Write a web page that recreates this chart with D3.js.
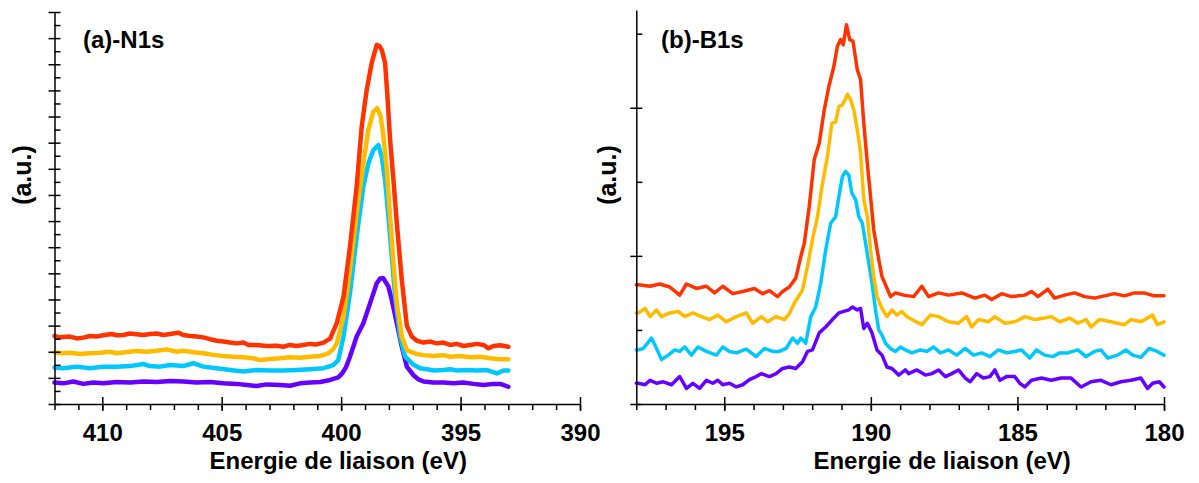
<!DOCTYPE html>
<html>
<head>
<meta charset="utf-8">
<script src="https://cdn.jsdelivr.net/npm/d3@7"></script>
<style>
  html, body { margin: 0; padding: 0; background: #fff; }
  svg { display: block; }
  text { font-family: "Liberation Sans", Arial, sans-serif; font-weight: bold; fill: #000; }
</style>
</head>
<body>
<svg id="chart" width="1199" height="483"></svg>
<script>
// ---------- DATA ----------
const seriesColors = ["#FF3300", "#FFBB00", "#00C8FF", "#6600FF"];

// Panel (a) N1s : [binding energy (eV), intensity (a.u.)]
const n1sRed = [[412.0,2.60],[411.77,2.55],[411.35,2.58],[411.07,2.51],[410.79,2.54],[410.52,2.60],[410.24,2.58],[409.96,2.63],[409.61,2.68],[409.40,2.63],[409.12,2.64],[408.84,2.70],[408.56,2.67],[408.28,2.64],[408.00,2.68],[407.72,2.70],[407.44,2.64],[407.16,2.68],[406.82,2.73],[406.61,2.64],[406.33,2.60],[406.05,2.58],[405.77,2.55],[405.49,2.48],[405.21,2.42],[404.93,2.39],[404.65,2.35],[404.37,2.32],[404.09,2.35],[403.88,2.26],[403.54,2.26],[403.12,2.22],[402.70,2.23],[402.42,2.19],[402.14,2.26],[401.86,2.22],[401.58,2.26],[401.30,2.30],[401.02,2.28],[400.74,2.35],[400.46,2.50],[400.18,3.10],[399.90,4.11],[399.63,6.02],[399.35,8.32],[399.14,10.61],[398.93,12.02],[398.72,13.05],[398.51,13.74],[398.40,13.70],[398.30,13.55],[398.16,13.05],[398.06,11.76],[397.95,10.10],[397.81,8.57],[397.67,6.93],[397.46,4.74],[397.25,3.00],[397.04,2.58],[396.83,2.42],[396.55,2.35],[396.27,2.39],[396.00,2.32],[395.72,2.35],[395.44,2.26],[395.16,2.30],[394.88,2.22],[394.60,2.26],[394.32,2.30],[394.04,2.26],[393.83,2.13],[393.62,2.22],[393.34,2.25],[393.0,2.19]];
const n1sYellow = [[412.0,1.98],[411.77,1.94],[411.35,1.96],[410.93,1.91],[410.52,1.94],[410.10,1.96],[409.68,2.00],[409.40,1.94],[408.98,1.99],[408.56,2.03],[408.14,2.00],[407.72,2.04],[407.30,2.09],[406.89,2.00],[406.61,2.04],[406.19,1.98],[405.77,1.94],[405.35,1.88],[404.93,1.84],[404.51,1.81],[404.09,1.79],[403.67,1.75],[403.40,1.68],[402.98,1.72],[402.56,1.75],[402.14,1.79],[401.72,1.77],[401.30,1.81],[400.88,1.84],[400.53,1.94],[400.33,2.10],[400.18,2.32],[399.90,3.34],[399.63,5.13],[399.35,7.30],[399.07,9.21],[398.86,10.49],[398.65,11.19],[398.49,11.32],[398.34,11.00],[398.23,10.23],[398.09,8.96],[397.95,7.17],[397.81,5.38],[397.67,3.85],[397.46,2.58],[397.25,2.07],[397.11,2.00],[396.83,1.91],[396.55,1.87],[396.13,1.84],[395.72,1.87],[395.44,1.81],[395.02,1.84],[394.60,1.79],[394.18,1.81],[393.76,1.75],[393.34,1.71],[393.0,1.71]];
const n1sCyan = [[412.0,1.40],[411.63,1.37],[411.07,1.43],[410.52,1.37],[409.96,1.43],[409.40,1.43],[408.84,1.45],[408.28,1.53],[408.00,1.45],[407.58,1.43],[407.16,1.49],[406.61,1.45],[406.19,1.56],[405.77,1.43],[405.21,1.37],[404.65,1.30],[404.09,1.24],[403.54,1.30],[402.98,1.28],[402.42,1.28],[401.86,1.30],[401.30,1.33],[400.74,1.37],[400.33,1.49],[400.12,1.68],[399.90,2.58],[399.63,4.24],[399.35,6.40],[399.07,8.32],[398.86,9.21],[398.65,9.72],[398.44,9.91],[398.30,9.46],[398.16,8.57],[398.02,7.17],[397.88,5.64],[397.74,4.11],[397.53,2.58],[397.32,1.81],[396.97,1.50],[396.69,1.37],[396.41,1.33],[396.13,1.28],[395.72,1.30],[395.44,1.33],[395.16,1.28],[394.74,1.30],[394.32,1.28],[393.90,1.30],[393.48,1.17],[393.20,1.28],[393.0,1.28]];
const n1sPurple = [[412.0,0.82],[411.63,0.79],[411.21,0.86],[410.79,0.77],[410.38,0.82],[409.96,0.79],[409.40,0.84],[408.84,0.82],[408.28,0.86],[407.72,0.84],[407.16,0.88],[406.61,0.86],[406.05,0.82],[405.49,0.84],[404.93,0.79],[404.37,0.77],[403.95,0.73],[403.54,0.69],[403.12,0.75],[402.56,0.73],[402.14,0.70],[401.72,0.79],[401.30,0.82],[400.88,0.84],[400.46,0.92],[400.12,1.02],[399.96,1.17],[399.80,1.40],[399.63,1.81],[399.35,2.58],[399.07,3.09],[398.79,3.85],[398.51,4.62],[398.37,4.80],[398.23,4.81],[398.02,4.49],[397.88,3.98],[397.67,3.09],[397.46,2.19],[397.25,1.43],[396.97,1.10],[396.76,0.94],[396.55,0.86],[396.13,0.82],[395.72,0.82],[395.30,0.79],[394.88,0.82],[394.46,0.77],[394.04,0.73],[393.62,0.77],[393.34,0.77],[393.0,0.66]];

// Panel (b) B1s : [binding energy (eV), intensity (a.u.)]
const b1sRed = [[198.0,1.61],[197.93,1.61],[197.53,1.59],[197.2,1.62],[196.86,1.58],[196.52,1.47],[196.29,1.62],[195.95,1.56],[195.61,1.59],[195.33,1.50],[195.05,1.59],[194.71,1.49],[194.37,1.52],[193.97,1.56],[193.69,1.49],[193.46,1.53],[193.18,1.45],[193.01,1.52],[192.78,1.58],[192.56,1.70],[192.39,1.99],[192.27,2.17],[192.10,2.67],[191.93,3.30],[191.76,3.52],[191.59,3.97],[191.43,4.29],[191.26,4.56],[191.14,4.83],[191.03,4.92],[190.94,4.85],[190.83,5.12],[190.72,4.92],[190.61,4.90],[190.46,4.51],[190.35,4.38],[190.24,3.79],[190.12,3.25],[190.01,2.80],[189.90,2.35],[189.73,1.95],[189.62,1.72],[189.50,1.61],[189.33,1.45],[189.16,1.50],[188.88,1.47],[188.54,1.45],[188.26,1.59],[188.03,1.45],[187.69,1.50],[187.35,1.47],[186.90,1.50],[186.45,1.43],[186.11,1.47],[185.88,1.41],[185.54,1.49],[185.20,1.45],[184.75,1.47],[184.52,1.52],[184.30,1.45],[183.96,1.55],[183.73,1.43],[183.39,1.47],[183.05,1.50],[182.71,1.45],[182.37,1.43],[182.03,1.46],[181.69,1.49],[181.35,1.46],[181.01,1.50],[180.68,1.50],[180.34,1.46],[180.0,1.46]];
const b1sYellow = [[198.0,1.23],[197.93,1.23],[197.70,1.29],[197.53,1.18],[197.31,1.27],[197.14,1.18],[196.86,1.23],[196.57,1.25],[196.35,1.18],[196.07,1.23],[195.78,1.18],[195.50,1.14],[195.22,1.20],[194.93,1.11],[194.59,1.18],[194.25,1.23],[194.03,1.09],[193.74,1.18],[193.52,1.11],[193.23,1.18],[192.95,1.14],[192.78,1.22],[192.61,1.36],[192.33,1.54],[192.16,1.86],[191.99,2.22],[191.82,2.53],[191.65,2.98],[191.48,3.34],[191.33,3.79],[191.20,3.81],[191.09,4.02],[190.97,4.04],[190.88,4.11],[190.80,4.18],[190.69,4.11],[190.58,3.97],[190.46,3.70],[190.35,3.39],[190.24,2.76],[190.12,2.53],[190.01,2.08],[189.90,1.72],[189.79,1.45],[189.62,1.29],[189.45,1.18],[189.28,1.27],[189.11,1.20],[188.94,1.25],[188.77,1.18],[188.60,1.14],[188.26,1.07],[187.97,1.20],[187.69,1.18],[187.35,1.11],[187.02,1.09],[186.73,1.18],[186.56,1.04],[186.33,1.14],[185.99,1.11],[185.77,1.18],[185.43,1.09],[185.09,1.11],[184.75,1.18],[184.41,1.14],[184.07,1.16],[183.85,1.18],[183.56,1.11],[183.22,1.16],[182.94,1.09],[182.66,1.14],[182.49,1.04],[182.20,1.14],[181.81,1.11],[181.35,1.07],[181.13,1.14],[180.79,1.11],[180.39,1.20],[180.23,1.07],[180.0,1.11]];
const b1sCyan = [[198.0,0.73],[197.93,0.73],[197.76,0.75],[197.48,0.89],[197.31,0.75],[197.14,0.60],[196.91,0.66],[196.69,0.73],[196.52,0.71],[196.35,0.77],[196.12,0.66],[195.90,0.77],[195.61,0.71],[195.27,0.66],[195.05,0.77],[194.82,0.71],[194.59,0.69],[194.25,0.74],[193.91,0.64],[193.63,0.75],[193.35,0.71],[193.12,0.71],[192.89,0.75],[192.67,0.89],[192.50,0.82],[192.39,0.89],[192.22,0.82],[192.05,1.18],[191.88,1.31],[191.71,1.63],[191.54,2.08],[191.37,2.44],[191.20,2.53],[191.09,2.80],[190.97,3.07],[190.86,3.14],[190.75,3.09],[190.65,2.85],[190.52,2.76],[190.41,2.53],[190.29,2.44],[190.18,2.17],[190.07,1.90],[189.96,1.63],[189.84,1.27],[189.73,1.00],[189.62,0.93],[189.50,0.82],[189.33,0.75],[189.16,0.71],[188.99,0.77],[188.82,0.73],[188.60,0.69],[188.31,0.73],[188.09,0.71],[187.86,0.77],[187.63,0.69],[187.35,0.73],[187.07,0.66],[186.78,0.75],[186.50,0.66],[186.22,0.69],[185.94,0.64],[185.65,0.73],[185.37,0.69],[185.09,0.71],[184.86,0.73],[184.58,0.62],[184.35,0.73],[184.07,0.66],[183.79,0.64],[183.56,0.69],[183.28,0.69],[182.94,0.73],[182.66,0.64],[182.37,0.71],[182.15,0.73],[181.92,0.62],[181.58,0.66],[181.30,0.73],[181.07,0.66],[180.79,0.63],[180.51,0.75],[180.23,0.71],[180.0,0.66]];
const b1sPurple = [[198.0,0.28],[197.93,0.28],[197.70,0.26],[197.53,0.32],[197.31,0.28],[197.08,0.30],[196.80,0.26],[196.52,0.37],[196.29,0.21],[196.07,0.28],[195.84,0.21],[195.61,0.32],[195.39,0.28],[195.22,0.32],[195.05,0.26],[194.82,0.28],[194.59,0.23],[194.37,0.26],[194.14,0.33],[193.91,0.37],[193.74,0.41],[193.46,0.37],[193.23,0.41],[193.01,0.48],[192.78,0.50],[192.56,0.48],[192.33,0.57],[192.16,0.71],[191.99,0.73],[191.76,0.96],[191.54,1.04],[191.31,1.14],[191.09,1.23],[190.92,1.25],[190.75,1.27],[190.63,1.31],[190.46,1.27],[190.35,1.29],[190.24,1.02],[190.12,1.09],[189.96,0.96],[189.79,0.73],[189.62,0.66],[189.45,0.50],[189.28,0.48],[189.05,0.39],[188.82,0.46],[188.71,0.41],[188.43,0.46],[188.14,0.39],[187.92,0.41],[187.69,0.46],[187.46,0.37],[187.24,0.41],[187.01,0.46],[186.78,0.35],[186.61,0.30],[186.39,0.41],[186.16,0.35],[185.94,0.37],[185.77,0.46],[185.60,0.32],[185.37,0.37],[185.09,0.37],[184.92,0.28],[184.75,0.23],[184.52,0.32],[184.18,0.35],[183.85,0.32],[183.51,0.35],[183.17,0.35],[182.83,0.23],[182.49,0.30],[182.15,0.32],[181.81,0.26],[181.47,0.30],[181.13,0.32],[180.79,0.35],[180.56,0.21],[180.39,0.28],[180.16,0.30],[180.0,0.23]];

// Axis ticks
const n1sXMajor = [410, 405, 400, 395, 390];
const n1sXMinor = d3.range(390, 413, 1);
const n1sYMajor = d3.range(0, 16, 1);
const n1sYMinor = d3.range(0.5, 15, 1);
const b1sXMajor = [195, 190, 185, 180];
const b1sXMinor = d3.range(180, 199, 1);
const b1sYMajor = [0, 2, 4];
const b1sYMinor = [1, 3, 5];

const panelTitles = ["(a)-N1s", "(b)-B1s"];
const xTitle = "Energie de liaison (eV)";
const yTitle = "(a.u.)";

// ---------- DRAW ----------
const svg = d3.select("#chart");
svg.append("rect").attr("width", 1199).attr("height", 483).attr("fill", "#fff");

function drawPanel(cfg) {
  const g = svg.append("g");
  const x = d3.scaleLinear().domain(cfg.xDomain).range(cfg.xRange);
  const y = d3.scaleLinear().domain(cfg.yDomain).range(cfg.yRange);
  const y0 = cfg.yRange[0];
  const x0 = cfg.xRange[0];

  // series
  const line = d3.line().x(d => x(d[0])).y(d => y(d[1]));
  cfg.series.slice().reverse().forEach((s, i) => {
    g.append("path").datum(s)
      .attr("d", line)
      .attr("fill", "none")
      .attr("stroke", seriesColors[cfg.series.length - 1 - i])
      .attr("stroke-width", cfg.lw)
      .attr("stroke-linejoin", "round")
      .attr("stroke-linecap", "round");
  });

  // x axis minor
  const gxm = g.append("g").attr("transform", `translate(0,${y0})`)
    .call(d3.axisBottom(x).tickValues(cfg.xMinor).tickSize(6).tickSizeOuter(0).tickFormat(""));
  gxm.select(".domain").remove();
  // x axis major
  const gx = g.append("g").attr("transform", `translate(0,${y0})`)
    .call(d3.axisBottom(x).tickValues(cfg.xMajor).tickSize(6).tickSizeOuter(0).tickFormat(d3.format("d")));
  gx.selectAll(".tick line").attr("y1", -7).attr("y2", 7);
  gx.selectAll(".tick text").attr("y", 37).attr("dy", null)
    .style("font-size", "24px").style("font-family", "'Liberation Sans', Arial, sans-serif").style("font-weight", "bold");

  // y axis minor (inward)
  const gym = g.append("g").attr("transform", `translate(${x0},0)`)
    .call(d3.axisLeft(y).tickValues(cfg.yMinor).tickSize(-6).tickSizeOuter(0).tickFormat(""));
  gym.select(".domain").remove();
  // y axis major (crossing)
  const gy = g.append("g").attr("transform", `translate(${x0},0)`)
    .call(d3.axisLeft(y).tickValues(cfg.yMajor).tickSize(6).tickSizeOuter(0).tickFormat(""));
  gy.selectAll(".tick line").attr("x1", 6).attr("x2", -6);

  g.selectAll(".domain, .tick line").attr("stroke", "#000").attr("stroke-width", 1.5);

  // titles
  g.append("text").attr("x", cfg.titleX).attr("y", 48).style("font-size", "24px").text(cfg.title);
  g.append("text").attr("x", (cfg.xRange[0] + cfg.xRange[1]) / 2 + cfg.xTitleShift).attr("y", 469)
    .attr("text-anchor", "middle").style("font-size", "24px").text(xTitle);
  g.append("text").attr("transform", `translate(${cfg.yTitleX},175) rotate(-90)`)
    .attr("text-anchor", "middle").style("font-size", "25px").text(yTitle);
}

drawPanel({
  xDomain: [412, 390], xRange: [54.5, 580],
  yDomain: [0, 15], yRange: [404, 12],
  series: [n1sRed, n1sYellow, n1sCyan, n1sPurple],
  xMajor: n1sXMajor, xMinor: n1sXMinor, yMajor: n1sYMajor, yMinor: n1sYMinor,
  lw: 4.5, title: panelTitles[0], titleX: 83, xTitleShift: 21, yTitleX: 31
});
drawPanel({
  xDomain: [198, 180], xRange: [636.3, 1164],
  yDomain: [0, 5.32], yRange: [404, 10],
  series: [b1sRed, b1sYellow, b1sCyan, b1sPurple],
  xMajor: b1sXMajor, xMinor: b1sXMinor, yMajor: b1sYMajor, yMinor: b1sYMinor,
  lw: 3.5, title: panelTitles[1], titleX: 661, xTitleShift: 42, yTitleX: 616
});
</script>
</body>
</html>
